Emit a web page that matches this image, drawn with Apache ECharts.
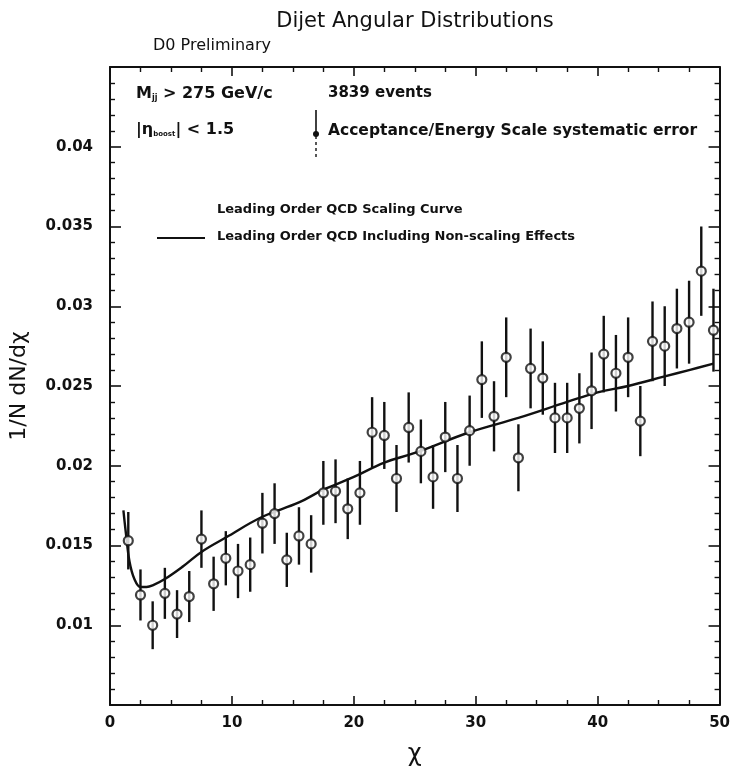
<!DOCTYPE html>
<html>
<head>
<meta charset="utf-8">
<script src="https://cdn.jsdelivr.net/npm/echarts@6/dist/echarts.min.js"></script>
<style>
  html, body { margin: 0; padding: 0; background: #fff; }
  #chart { width: 733px; height: 772px; }
</style>
</head>
<body>
<div id="chart"></div>
<script>
// Bin centres in chi
const chiBins = [1.5, 2.5, 3.5, 4.5, 5.5, 6.5, 7.5, 8.5, 9.5, 10.5,
  11.5, 12.5, 13.5, 14.5, 15.5, 16.5, 17.5, 18.5, 19.5, 20.5,
  21.5, 22.5, 23.5, 24.5, 25.5, 26.5, 27.5, 28.5, 29.5, 30.5,
  31.5, 32.5, 33.5, 34.5, 35.5, 36.5, 37.5, 38.5, 39.5, 40.5,
  41.5, 42.5, 43.5, 44.5, 45.5, 46.5, 47.5, 48.5, 49.5];

// Measured 1/N dN/dchi
const measured = [0.0153, 0.0119, 0.0100, 0.0120, 0.0107, 0.0118, 0.0154, 0.0126, 0.0142, 0.0134,
  0.0138, 0.0164, 0.0170, 0.0141, 0.0156, 0.0151, 0.0183, 0.0184, 0.0173, 0.0183,
  0.0221, 0.0219, 0.0192, 0.0224, 0.0209, 0.0193, 0.0218, 0.0192, 0.0222, 0.0254,
  0.0231, 0.0268, 0.0205, 0.0261, 0.0255, 0.0230, 0.0230, 0.0236, 0.0247, 0.0270,
  0.0258, 0.0268, 0.0228, 0.0278, 0.0275, 0.0286, 0.0290, 0.0322, 0.0285];

// Half-width of each error bar
const errors = [0.0018, 0.0016, 0.0015, 0.0016, 0.0015, 0.0016, 0.0018, 0.0017, 0.0017, 0.0017,
  0.0017, 0.0019, 0.0019, 0.0017, 0.0018, 0.0018, 0.0020, 0.0020, 0.0019, 0.0020,
  0.0022, 0.0021, 0.0021, 0.0022, 0.0020, 0.0020, 0.0022, 0.0021, 0.0022, 0.0024,
  0.0022, 0.0025, 0.0021, 0.0025, 0.0023, 0.0022, 0.0022, 0.0022, 0.0024, 0.0024,
  0.0024, 0.0025, 0.0022, 0.0025, 0.0025, 0.0025, 0.0026, 0.0028, 0.0026];

// Leading order QCD prediction including non-scaling effects
const curveChi = [1.1, 1.3, 1.6, 2.0, 2.5, 3.0, 3.5, 4.5, 6.0, 7.5, 9.5, 12.5, 15.5, 17.5,
  20.0, 22.5, 25.0, 29.5, 33.5, 37.5, 40.0, 42.5, 45.5, 47.5, 49.5];
const curveVal = [0.0172, 0.0158, 0.0140, 0.0129, 0.0124, 0.0124, 0.0125, 0.0129, 0.0137, 0.0146,
  0.0155, 0.0168, 0.0177, 0.0185, 0.0193, 0.0202, 0.0208, 0.0221, 0.0230, 0.0240,
  0.0246, 0.0250, 0.0256, 0.0260, 0.0264];

// Axis settings
const xRange = [0, 50];
const xStep = 10;
const yRange = [0.005, 0.045];
const yStep = 0.005;
const yShownLabels = ['0.01', '0.015', '0.02', '0.025', '0.03', '0.035', '0.04'];

const FONT = 'DejaVu Sans';
const INK = '#111';

const pointData = chiBins.map((c, i) => [c, measured[i]]);
const barData = chiBins.map((c, i) => [c, measured[i] - errors[i], measured[i] + errors[i]]);
const curveData = curveChi.map((c, i) => [c, curveVal[i]]);

function fmtY(v) {
  const s = String(parseFloat(v.toFixed(4)));
  return yShownLabels.indexOf(s) >= 0 ? s : '';
}

const chart = echarts.init(document.getElementById('chart'), null, { renderer: 'canvas' });

const baseX = {
  type: 'value', min: xRange[0], max: xRange[1], interval: xStep,
  axisLine: { show: true, onZero: false, lineStyle: { color: INK, width: 2 } },
  axisTick: { show: true, inside: true, length: 9, lineStyle: { color: INK, width: 1.6 } },
  minorTick: { show: true, splitNumber: 4, length: 5, lineStyle: { color: INK, width: 1.4 } },
  splitLine: { show: false }, minorSplitLine: { show: false }
};
const baseY = {
  type: 'value', min: yRange[0], max: yRange[1], interval: yStep,
  axisLine: { show: true, onZero: false, lineStyle: { color: INK, width: 2 } },
  axisTick: { show: true, inside: true, length: 11, lineStyle: { color: INK, width: 1.6 } },
  minorTick: { show: true, splitNumber: 5, length: 5, lineStyle: { color: INK, width: 1.4 } },
  splitLine: { show: false }, minorSplitLine: { show: false }
};

chart.setOption({
  backgroundColor: '#fff',
  animation: false,
  title: {
    text: 'Dijet Angular Distributions',
    left: 410, top: 6, textAlign: 'center',
    textStyle: { fontFamily: FONT, fontSize: 21, fontWeight: 'normal', color: INK }
  },
  grid: { left: 109, right: 12, top: 67, bottom: 57 },
  xAxis: [
    Object.assign({}, baseX, {
      position: 'bottom',
      name: 'χ', nameLocation: 'middle', nameGap: 38,
      nameTextStyle: { fontFamily: FONT, fontSize: 24, color: INK },
      axisLabel: { show: true, margin: 11, fontFamily: FONT, fontSize: 15, fontWeight: 'bold', color: INK }
    }),
    Object.assign({}, baseX, { position: 'top', axisLabel: { show: false } })
  ],
  yAxis: [
    Object.assign({}, baseY, {
      position: 'left',
      name: '1/N dN/dχ', nameLocation: 'middle', nameGap: 80, nameRotate: 90,
      nameTextStyle: { fontFamily: FONT, fontSize: 22, color: INK },
      axisLabel: { show: true, margin: 17, formatter: fmtY, fontFamily: FONT, fontSize: 15, fontWeight: 'bold', color: INK }
    }),
    Object.assign({}, baseY, { position: 'right', axisLabel: { show: false } })
  ],
  series: [
    {
      name: 'Leading Order QCD Including Non-scaling Effects',
      type: 'line', data: curveData, smooth: 0.4, symbol: 'none',
      lineStyle: { color: INK, width: 2.4 }, z: 2
    },
    {
      name: 'errors', type: 'custom', data: barData, z: 3,
      renderItem: function (params, api) {
        const x = api.value(0);
        const lo = api.coord([x, api.value(1)]);
        const hi = api.coord([x, api.value(2)]);
        return {
          type: 'line',
          shape: { x1: lo[0], y1: lo[1], x2: hi[0], y2: hi[1] },
          style: { stroke: INK, lineWidth: 2.4 }
        };
      }
    },
    {
      name: 'D0 data', type: 'scatter', data: pointData, z: 4,
      symbol: 'circle', symbolSize: 9,
      itemStyle: { color: '#fff', borderColor: INK, borderWidth: 2.2 }
    }
  ],
  graphic: [
    { type: 'text', left: 153, top: 38,
      style: { text: 'D0 Preliminary', fontFamily: FONT, fontSize: 16, fill: INK } },
    { type: 'text', left: 136, top: 86,
      style: {
        rich: {
          m: { fontFamily: FONT, fontSize: 16, fontWeight: 'bold', fill: INK },
          s: { fontFamily: FONT, fontSize: 8, fontWeight: 'bold', fill: INK, padding: [8, 0, 0, 0] }
        },
        text: '{m|M}{s|jj}{m| > 275 GeV/c}'
      } },
    { type: 'text', left: 328, top: 86,
      style: { text: '3839 events', fontFamily: FONT, fontSize: 15, fontWeight: 'bold', fill: INK } },
    { type: 'text', left: 136, top: 122,
      style: {
        rich: {
          m: { fontFamily: FONT, fontSize: 16, fontWeight: 'bold', fill: INK },
          s: { fontFamily: FONT, fontSize: 7, fontWeight: 'bold', fill: INK, padding: [8, 0, 0, 0] }
        },
        text: '{m||η}{s|boost}{m|| < 1.5}'
      } },
    { type: 'line', shape: { x1: 316, y1: 110, x2: 316, y2: 133 }, style: { stroke: INK, lineWidth: 1.6 } },
    { type: 'line', shape: { x1: 316, y1: 136, x2: 316, y2: 157 }, style: { stroke: INK, lineWidth: 1.4, lineDash: [3, 3] } },
    { type: 'circle', shape: { cx: 316, cy: 134, r: 3 }, style: { fill: INK } },
    { type: 'text', left: 328, top: 123,
      style: { text: 'Acceptance/Energy Scale systematic error', fontFamily: FONT, fontSize: 15.5, fontWeight: 'bold', fill: INK } },
    { type: 'text', left: 217, top: 203,
      style: { text: 'Leading Order QCD Scaling Curve', fontFamily: FONT, fontSize: 13, fontWeight: 'bold', fill: INK } },
    { type: 'line', shape: { x1: 157, y1: 238, x2: 205, y2: 238 }, style: { stroke: INK, lineWidth: 2 } },
    { type: 'text', left: 217, top: 230,
      style: { text: 'Leading Order QCD Including Non-scaling Effects', fontFamily: FONT, fontSize: 13, fontWeight: 'bold', fill: INK } }
  ]
});
</script>
</body>
</html>
